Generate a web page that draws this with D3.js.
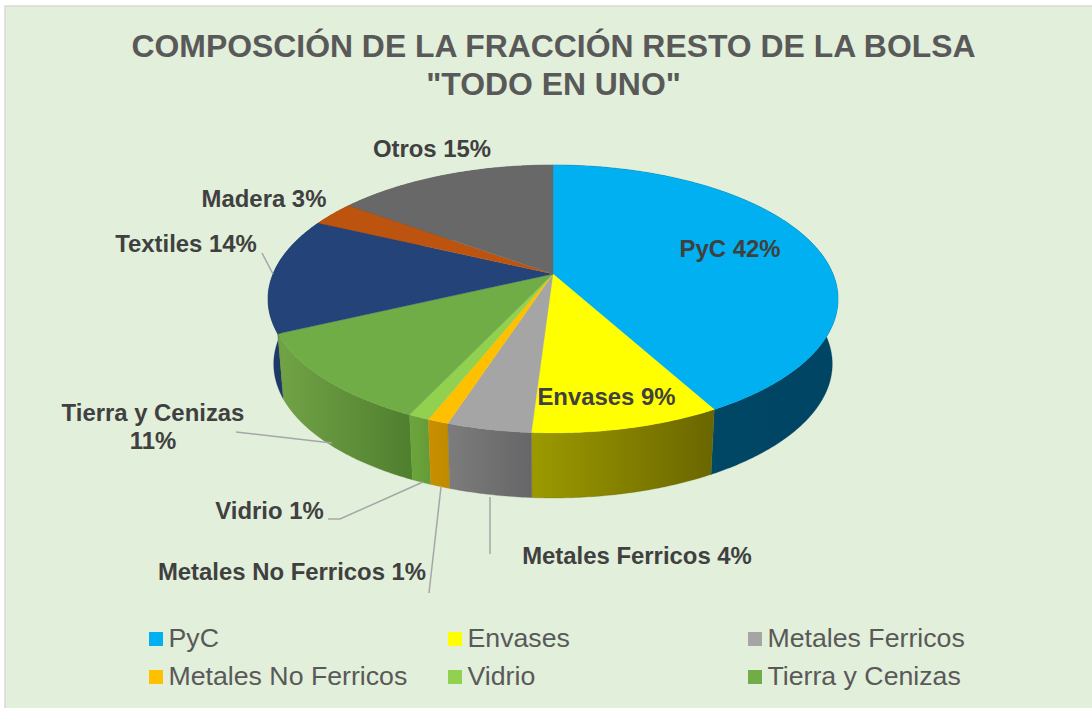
<!DOCTYPE html>
<html>
<head>
<meta charset="utf-8">
<script src="https://cdn.jsdelivr.net/npm/d3@7"></script>
<style>
    html, body { margin: 0; padding: 0; background: #ffffff; }
    svg { display: block; }
    text { font-family: "Liberation Sans", Arial, sans-serif; }
</style>
</head>
<body>
<div id="chart"></div>
<script>
const titleLines = ["COMPOSCIÓN DE LA FRACCIÓN RESTO DE LA BOLSA", "\"TODO EN UNO\""];
const categories = ["PyC", "Envases", "Metales Ferricos", "Metales No Ferricos", "Vidrio", "Tierra y Cenizas", "Textiles", "Madera", "Otros"];
const values = [42, 9, 4, 1, 1, 11, 14, 3, 15];
const legendItems = ["PyC", "Envases", "Metales Ferricos", "Metales No Ferricos", "Vidrio", "Tierra y Cenizas"];

const topColors = ["#00B0F0", "#FFFF00", "#A5A5A5", "#FFC000", "#92D050", "#70AD47", "#234379", "#BC5410", "#686868"];
const wallLeft = ["#004A68", "#9C9A00", "#7C7C7C", "#C89000", "#6DA63C", "#72A346", "#1E3A68", "#8A3D0A", "#505050"];
const wallRight = ["#004563", "#6A6600", "#666668", "#C08A00", "#649A38", "#4F7F2E", "#1C3560", "#8A3D0A", "#505050"];

// label anchor: x, baseline y, text-anchor
const labelPos = [
    [730, 257, "middle"],
    [606.5, 405, "middle"],
    [637, 564, "middle"],
    [292, 580, "middle"],
    [269.5, 519, "middle"],
    [153, 421, "middle"],
    [186, 252, "middle"],
    [264, 207, "middle"],
    [432, 157, "middle"]
];
const leaderLines = [
    [[262, 253], [273, 274]],
    [[236, 432], [332, 443]],
    [[328, 519], [340, 519], [423, 482]],
    [[429, 593], [441, 487]],
    [[490, 554], [490, 497]]
];

main();

function main() {

    let width = 1092;
    let height = 708;

    // pie plane, a circle seen in perspective
    let cx = 553, cy = 274;
    let radX = 280, radY = 129.3, persp = 0.1866;
    let depth = 65, shrink = 0.98;

    let svg = d3.select("#chart")
        .append("svg")
        .attr("width", width)
        .attr("height", height);

    svg.append("rect")
        .attr("x", 5)
        .attr("y", 6)
        .attr("width", width)
        .attr("height", height)
        .style("fill", "#E2EFDA")
        .style("stroke", "#D9D9D9")
        .style("stroke-width", 1.5);

    svg.selectAll(".title")
        .data(titleLines)
        .enter()
        .append("text")
        .attr("class", "title")
        .attr("x", 553.5)
        .attr("y", (d, i) => 57 + i * 38)
        .attr("text-anchor", "middle")
        .style("font-size", "31.9px")
        .style("font-weight", "bold")
        .style("fill", "#595959")
        .text(d => d);

    function project(t) {
        let u = Math.sin(t), v = -Math.cos(t);
        let w = 1 - persp * v;
        return [cx + radX * u / w, cy + radY * v / w];
    }

    function projectBottom(t) {
        let p = project(t);
        return [cx + (p[0] - cx) * shrink, p[1] + depth];
    }

    function arcPoints(d, fn) {
        let n = Math.max(4, Math.ceil((d.endAngle - d.startAngle) / 0.01));
        return d3.range(n + 1).map(i => fn(d.startAngle + (d.endAngle - d.startAngle) * i / n));
    }

    let slices = d3.pie().sort(null).startAngle(0).endAngle(2 * Math.PI)(values);
    let line = d3.line();

    let defs = svg.append("defs");
    slices.forEach((d, i) => {
        let grad = defs.append("linearGradient").attr("id", "wall" + i);
        grad.append("stop").attr("offset", "0%").attr("stop-color", wallLeft[i]);
        grad.append("stop").attr("offset", "100%").attr("stop-color", wallRight[i]);
    });

    // walls, back ones first so that the front ones cover them
    let wallOrder = slices.slice().sort((a, b) => {
        let ma = -Math.cos((a.startAngle + a.endAngle) / 2);
        let mb = -Math.cos((b.startAngle + b.endAngle) / 2);
        return ma - mb;
    });

    svg.append("g").selectAll(".wall")
        .data(wallOrder)
        .enter()
        .append("path")
        .attr("class", "wall")
        .attr("d", d => {
            let top = arcPoints(d, project);
            let bottom = arcPoints(d, projectBottom).reverse();
            return line(top.concat(bottom)) + "Z";
        })
        .style("fill", d => "url(#wall" + d.index + ")")
        .style("stroke", d => wallRight[d.index])
        .style("stroke-width", 0.3);

    svg.append("g").selectAll(".slice")
        .data(slices)
        .enter()
        .append("path")
        .attr("class", "slice")
        .attr("d", d => line([[cx, cy]].concat(arcPoints(d, project))) + "Z")
        .style("fill", d => topColors[d.index])
        .style("stroke", d => topColors[d.index])
        .style("stroke-width", 0.3);

    //leader lines
    svg.append("g").selectAll(".leader")
        .data(leaderLines)
        .enter()
        .append("path")
        .attr("class", "leader")
        .attr("d", d => line(d))
        .style("fill", "none")
        .style("stroke", "#A6A6A6")
        .style("stroke-width", 1.5);

    //data labels
    svg.append("g").selectAll(".label")
        .data(slices)
        .enter()
        .append("text")
        .attr("class", "label")
        .attr("x", d => labelPos[d.index][0])
        .attr("y", d => labelPos[d.index][1])
        .attr("text-anchor", d => labelPos[d.index][2])
        .style("font-size", "23.9px")
        .style("font-weight", "bold")
        .style("fill", "#404040")
        .each(function (d) {
            let name = categories[d.index];
            let pct = d.value + "%";
            if (name === "Tierra y Cenizas") {
                let x = labelPos[d.index][0];
                d3.select(this).append("tspan").attr("x", x).text(name);
                d3.select(this).append("tspan").attr("x", x).attr("dy", 28).text(pct);
            } else {
                d3.select(this).text(name + " " + pct);
            }
        });

    //legend
    let legendX = [149, 448, 748];
    let legend = svg.append("g").selectAll(".legend")
        .data(legendItems)
        .enter()
        .append("g")
        .attr("class", "legend")
        .attr("transform", (d, i) => "translate(" + legendX[i % 3] + "," + (632 + Math.floor(i / 3) * 38) + ")");

    legend.append("rect")
        .attr("width", 14)
        .attr("height", 14)
        .style("fill", d => topColors[categories.indexOf(d)]);

    legend.append("text")
        .attr("x", 19.5)
        .attr("y", 15)
        .style("font-size", "26.7px")
        .style("fill", "#595959")
        .text(d => d);
}
</script>
</body>
</html>
